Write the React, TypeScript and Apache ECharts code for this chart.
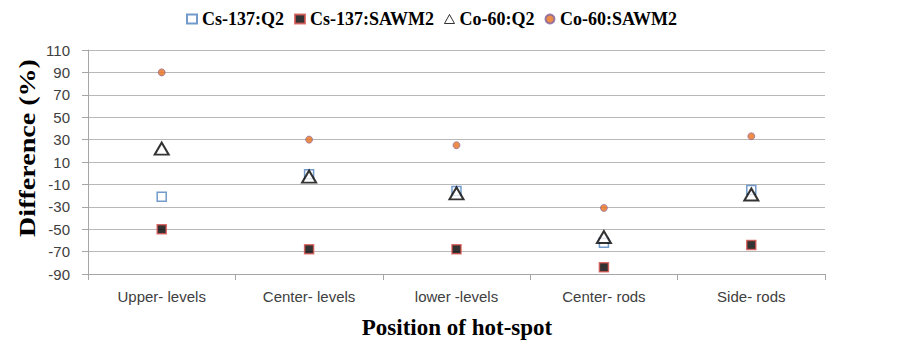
import React, { useEffect, useRef } from "react";
import * as echarts from "echarts";

const categories = ["Upper- levels", "Center- levels", "lower -levels", "Center- rods", "Side- rods"];
const yTicks = [-90, -70, -50, -30, -10, 10, 30, 50, 70, 90, 110];
const cs137Q2 = [-21, -1, -16, -62, -15];
const cs137SAWM2 = [-50, -68, -68, -84, -64];
const co60Q2 = [22, -3, -18, -57, -19];
const co60SAWM2 = [90, 30, 25, -31, 33];
const seriesNames = ["Cs-137:Q2", "Cs-137:SAWM2", "Co-60:Q2", "Co-60:SAWM2"];
const xTitle = "Position of hot-spot";
const yTitle = "Difference (%)";

export default function App() {
  const ref = useRef<HTMLDivElement>(null);
  useEffect(() => {
    if (!ref.current) return;
    const chart = echarts.init(ref.current, null, { renderer: "svg" });
    const serif = "'Liberation Serif', 'Times New Roman', serif";
    const sans = "'Liberation Sans', Arial, sans-serif";
    chart.setOption({
      animation: false,
      backgroundColor: "#ffffff",
      grid: { left: 88, right: 78, top: 50, bottom: 72 },
      legend: {
        left: 181,
        top: 5,
        itemWidth: 10,
        itemHeight: 9,
        itemGap: 10,
        textStyle: { fontFamily: serif, fontWeight: "bold", fontSize: 18, color: "#000" },
        data: [
          { name: seriesNames[0] },
          { name: seriesNames[1] },
          { name: seriesNames[2], itemStyle: { borderWidth: 1 } },
          { name: seriesNames[3] },
        ],
      },
      xAxis: {
        type: "category",
        data: categories,
        boundaryGap: true,
        axisLine: { onZero: false, lineStyle: { color: "#a6a6a6", width: 1 } },
        axisTick: { show: true, interval: 0, length: 6, lineStyle: { color: "#a6a6a6" } },
        axisLabel: { margin: 15, fontFamily: sans, fontSize: 15, color: "#404040", interval: 0 },
        splitLine: { show: false },
      },
      yAxis: {
        type: "value",
        min: -90,
        max: 110,
        axisLine: { show: true, onZero: false, lineStyle: { color: "#a6a6a6", width: 1 } },
        axisTick: { show: true, length: 6, customValues: yTicks, lineStyle: { color: "#a6a6a6" } },
        axisLabel: { margin: 18, fontFamily: sans, fontSize: 15, color: "#404040", customValues: yTicks },
        splitLine: { show: true, lineStyle: { color: "#b8b8b8", width: 1 } },
      },
      graphic: [
        {
          type: "text",
          x: 457,
          y: 327,
          style: {
            text: xTitle,
            fontFamily: serif,
            fontWeight: "bold",
            fontSize: 23,
            fill: "#000",
            textAlign: "center",
            textVerticalAlign: "middle",
          },
        },
        {
          type: "text",
          x: 27,
          y: 148,
          rotation: Math.PI / 2,
          scaleX: 1.22,
          style: {
            text: yTitle,
            fontFamily: serif,
            fontWeight: "bold",
            fontSize: 23,
            fill: "#000",
            textAlign: "center",
            textVerticalAlign: "middle",
          },
        },
      ],
      series: [
        {
          name: seriesNames[0],
          type: "scatter",
          data: cs137Q2,
          symbol: "rect",
          symbolSize: 9,
          itemStyle: { color: "#ffffff", borderColor: "#4f81bd", borderWidth: 1.5 },
          z: 2,
        },
        {
          name: seriesNames[1],
          type: "scatter",
          data: cs137SAWM2,
          symbol: "rect",
          symbolSize: 9,
          itemStyle: { color: "#000000", borderColor: "#d9534f", borderWidth: 1.5 },
          z: 3,
        },
        {
          name: seriesNames[2],
          type: "scatter",
          data: co60Q2,
          symbol: "triangle",
          symbolSize: [14, 12],
          itemStyle: { color: "#ffffff", borderColor: "#000000", borderWidth: 2 },
          z: 4,
        },
        {
          name: seriesNames[3],
          type: "scatter",
          data: co60SAWM2,
          symbol: "circle",
          symbolSize: 7,
          itemStyle: { color: "#e8701e", borderColor: "#8064a2", borderWidth: 0.8 },
          z: 5,
        },
      ],
    });
    return () => chart.dispose();
  }, []);
  return (
    <div
      ref={ref}
      style={{ position: "fixed", left: 0, top: 0, width: 903, height: 346 }}
    />
  );
}
